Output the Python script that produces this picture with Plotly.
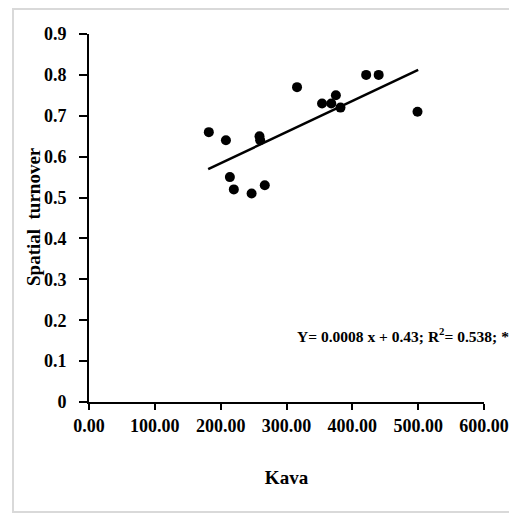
import plotly.graph_objects as go

# Data
kava = [182, 208, 259, 260, 214, 220, 247, 267, 316, 354, 368, 375, 382, 421, 440, 499]
turnover = [0.66, 0.64, 0.65, 0.64, 0.55, 0.52, 0.51, 0.53, 0.77, 0.73, 0.73, 0.75, 0.72, 0.80, 0.80, 0.71]

trend_x = [181, 500]
trend_slope = 0.00076
trend_intercept = 0.432
trend_y = [trend_slope * v + trend_intercept for v in trend_x]

x_ticks = [0, 100, 200, 300, 400, 500, 600]
x_tick_text = ["0.00", "100.00", "200.00", "300.00", "400.00", "500.00", "600.00"]
y_ticks = [0, 0.1, 0.2, 0.3, 0.4, 0.5, 0.6, 0.7, 0.8, 0.9]
y_tick_text = ["0", "0.1", "0.2", "0.3", "0.4", "0.5", "0.6", "0.7", "0.8", "0.9"]

FONT = "Liberation Serif"

fig = go.Figure()
fig.add_trace(go.Scatter(x=trend_x, y=trend_y, mode="lines",
                         line=dict(color="black", width=2.5), showlegend=False))
fig.add_trace(go.Scatter(x=kava, y=turnover, mode="markers",
                         marker=dict(color="black", size=10, line=dict(width=0)),
                         showlegend=False))

# page has an 8px body margin: figure starts at (8, 8)
OFF = 8
W, H = 509, 505
L, R, T, B = 81, 33, 26, 111
pw, ph = W - L - R, H - T - B

def px(x):  # page x -> paper
    return (x - OFF - L) / pw

def py(y):  # page y -> paper
    return (H - B - (y - OFF)) / ph

fig.update_layout(
    width=W, height=H,
    margin=dict(l=L, r=R, t=T, b=B, autoexpand=False),
    paper_bgcolor="white", plot_bgcolor="white",
    font=dict(family=FONT, color="black"),
    xaxis=dict(range=[0, 600], tickvals=x_ticks, ticktext=["<b>%s</b>" % t for t in x_tick_text],
               automargin=False,
               showgrid=False, zeroline=False, showline=True, linecolor="black",
               linewidth=2, ticks="outside", ticklen=6, tickwidth=2, tickcolor="black",
               tickfont=dict(family=FONT, size=18, color="black"),
               title=dict(text="<b>Kava</b>", font=dict(family=FONT, size=19), standoff=36)),
    yaxis=dict(range=[0, 0.9], tickvals=y_ticks, ticktext=["<b>%s</b>" % t for t in y_tick_text],
               automargin=False,
               showgrid=False, zeroline=False, showline=True, linecolor="black",
               linewidth=2, ticks="outside", ticklen=8, tickwidth=2, tickcolor="black",
               ticklabelstandoff=9,
               tickfont=dict(family=FONT, size=18, color="black")),
    shapes=[
        dict(type="rect", xref="paper", yref="paper",
             x0=px(13), x1=px(530), y0=py(512), y1=py(9),
             line=dict(color="#d9d9d9", width=2), fillcolor="rgba(0,0,0,0)", layer="below"),
    ],
    annotations=[
        dict(text="<b>Spatial  turnover</b>", textangle=-90,
             xref="paper", yref="paper", x=px(33), y=py(217),
             xanchor="center", yanchor="middle", showarrow=False,
             font=dict(family=FONT, size=19, color="black")),
        dict(text="<b>Y= 0.0008 x + 0.43; R<sup>2</sup>= 0.538; *</b>",
             xref="paper", yref="paper", x=px(511), y=py(335),
             xanchor="right", yanchor="middle", showarrow=False,
             font=dict(family=FONT, size=15.5, color="black")),
    ],
)

fig.write_html("out.html")
